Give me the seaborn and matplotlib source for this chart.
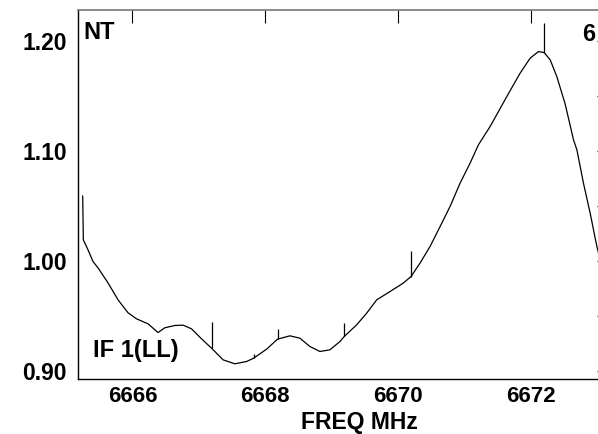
import matplotlib
matplotlib.use("Agg")
import matplotlib.pyplot as plt
import seaborn as sns
import pandas as pd

# spectrum (frequency in MHz, relative intensity)
freq = [6665.251, 6665.261, 6665.331, 6665.406, 6665.482, 6665.632, 6665.783,
        6665.934, 6666.060, 6666.235, 6666.386, 6666.487, 6666.638, 6666.763,
        6666.889, 6667.040, 6667.191, 6667.365, 6667.542, 6667.718, 6667.828,
        6668.020, 6668.185, 6668.371, 6668.521, 6668.672, 6668.823, 6668.973,
        6669.124, 6669.189, 6669.376, 6669.527, 6669.678, 6669.878, 6670.078,
        6670.194, 6670.330, 6670.481, 6670.632, 6670.782, 6670.933, 6671.084,
        6671.209, 6671.385, 6671.637, 6671.837, 6671.988, 6672.113, 6672.199,
        6672.290, 6672.390, 6672.515, 6672.641, 6672.692, 6672.791, 6672.892,
        6672.993, 6673.120]
flux = [1.059, 1.019, 1.010, 0.9994, 0.9936, 0.980, 0.9646,
        0.9528, 0.9474, 0.9428, 0.9349, 0.9392, 0.9413, 0.9416,
        0.9383, 0.9292, 0.9207, 0.9101, 0.9065, 0.9086, 0.9117,
        0.9198, 0.9289, 0.9319, 0.9298, 0.9222, 0.9177, 0.9192,
        0.9267, 0.9313, 0.9419, 0.9525, 0.9646, 0.9721, 0.9798,
        0.9857, 0.9979, 1.0130, 1.0311, 1.0493, 1.0705, 1.0887,
        1.1053, 1.1219, 1.1492, 1.1704, 1.1840, 1.1900, 1.1891,
        1.1825, 1.1673, 1.1425, 1.1099, 1.1008, 1.0705, 1.0433,
        1.0130, 0.983]

# narrow spikes on top of the spectrum
spike_freq = [6667.191, 6667.828, 6668.185, 6669.189, 6670.194, 6672.199]
spike_base = [0.9207, 0.9117, 0.9289, 0.9313, 0.9857, 1.1891]
spike_top = [0.9449, 0.9156, 0.9380, 0.9434, 1.0091, 1.2158]

x_ticks = [6666, 6668, 6670, 6672]
y_ticks = [0.90, 0.95, 1.00, 1.05, 1.10, 1.15, 1.20]

sns.set_theme(style="white")
plt.rcParams['font.family'] = ['Liberation Sans', 'DejaVu Sans']
plt.rcParams['font.weight'] = 'bold'
plt.rcParams['text.color'] = 'black'
plt.rcParams['axes.labelcolor'] = 'black'
plt.rcParams['xtick.color'] = 'black'
plt.rcParams['ytick.color'] = 'black'

df = pd.DataFrame({'freq': freq, 'flux': flux})

fig = plt.figure(figsize=(5.98, 4.34), dpi=100)
ax = fig.add_axes([0.1304, 0.1267, 0.8896, 0.8509])

sns.lineplot(data=df, x='freq', y='flux', color='black', linewidth=0.9,
             estimator=None, sort=False, ax=ax)
ax.vlines(spike_freq, spike_base, spike_top, color='black', linewidth=0.9)

ax.set_xlim(6665.18, 6673.19)
ax.set_ylim(0.8927, 1.228)

ax.set_xticks(x_ticks)
ax.set_xticklabels([str(t) for t in x_ticks])
ax.set_yticks(y_ticks)
ax.set_yticklabels(['%.2f' % t if round(t * 100) % 10 == 0 else '' for t in y_ticks])

ax.tick_params(axis='both', direction='in', length=9.7, width=0.8,
               labelsize=16.5, color='black', labelcolor='black')
ax.tick_params(axis='x', top=True, labeltop=False, pad=5, labelsize=16)
ax.tick_params(axis='y', right=True, labelright=False, pad=8)
for lab in ax.get_xticklabels() + ax.get_yticklabels():
    lab.set_fontweight('bold')

for side in ['left', 'bottom']:
    ax.spines[side].set_color('black')
    ax.spines[side].set_linewidth(1.0)
ax.spines['top'].set_color('#777777')
ax.spines['top'].set_linewidth(1.2)
ax.spines['right'].set_color('#777777')

ax.set_xlabel('FREQ MHz', fontsize=16.5, fontweight='bold', color='black', labelpad=0)
ax.xaxis.set_label_coords((359 - 78) / 532, -0.0867)
ax.set_ylabel('')

ax.text(0.011, 0.970, 'NT', transform=ax.transAxes, fontsize=17,
        fontweight='bold', va='top', ha='left', color='black')
ax.text(0.028, 0.046, 'IF 1(LL)', transform=ax.transAxes, fontsize=17,
        fontweight='bold', va='bottom', ha='left', color='black')
ax.text(0.947, 0.963, '6', transform=ax.transAxes, fontsize=17,
        fontweight='bold', va='top', ha='left', color='black')

fig.savefig('out.png', dpi=100)
